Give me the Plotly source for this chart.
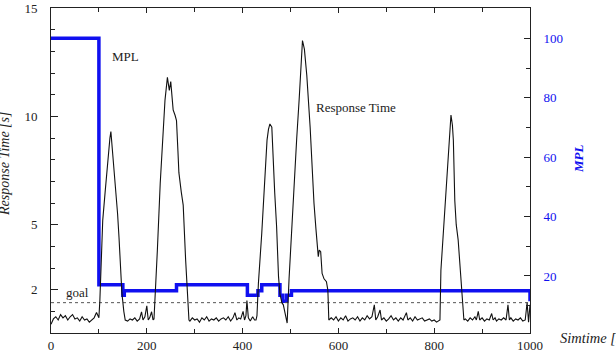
import plotly.graph_objects as go

# ---- data ----
rt_time = [0, 5, 10, 15, 20, 25, 30, 35, 40, 45, 50, 55, 60, 65, 70, 75, 80, 85, 90, 95, 100,
           102, 104, 108, 113, 117, 120, 123, 125, 127, 129, 132, 136, 139, 142, 145, 148, 152, 155,
           160, 165, 170, 175, 180, 185, 189, 192, 196, 200, 203, 206, 210, 213, 215,
           217, 222, 228, 231, 235, 238, 243, 247, 250, 255, 259, 262, 265, 267, 272, 276, 281, 285, 288,
           290, 295, 300, 305, 310, 315, 320, 325, 330, 335, 340, 345, 350, 355, 360, 365, 370, 375, 380,
           384, 388, 392, 396, 401, 404, 407, 409, 412, 416, 421, 425, 428,
           430, 433, 440, 447, 451, 454, 457, 461, 464, 467, 471, 475, 478, 482, 485, 489, 493,
           497, 500, 506, 509, 513, 518, 521, 525, 529, 534, 541, 546, 549, 553, 558, 560, 563, 566, 570,
           575, 578, 580,
           585, 590, 595, 600, 605, 610, 615, 620, 625, 630, 635, 640, 645, 650, 655, 660, 665, 670, 675,
           678, 682, 687, 690, 695, 700, 705, 710, 715, 720, 725, 730, 735, 738, 742, 745, 750, 755, 760,
           765, 770, 775, 780, 785, 790, 795, 800, 805, 810,
           812, 814, 819, 824, 826, 830, 833, 835, 838, 840, 843, 846, 850, 854, 857, 859, 862,
           865, 870, 875, 880, 885, 888, 892, 895, 900, 905, 910, 915, 920, 923, 927, 930, 935, 940, 945,
           950, 954, 957, 960, 965, 970, 975, 980, 985, 990, 994, 997, 1000]
rt_value = [0.40, 0.65, 0.75, 0.60, 0.85, 0.70, 0.80, 0.60, 0.75, 0.85, 0.65, 0.70, 0.55, 0.75, 0.60, 0.65, 0.50, 0.60, 0.70, 0.95, 0.70,
            1.5, 3.0, 5.2, 6.5, 7.6, 8.3, 9.0, 9.3, 8.8, 8.1, 7.6, 6.6, 5.5, 4.4, 3.0, 1.85, 1.0, 0.6,
            0.55, 0.65, 0.60, 0.70, 0.55, 0.65, 0.98, 0.60, 0.75, 1.25, 0.60, 0.70, 0.98, 0.60, 0.65,
            1.5, 3.8, 6.9, 8.0, 9.5, 10.75, 11.8, 11.2, 11.6, 10.3, 10.05, 9.8, 8.4, 7.4, 6.5, 5.9, 3.4, 1.5, 0.6,
            0.55, 0.70, 0.60, 0.65, 0.50, 0.70, 0.60, 0.75, 0.55, 0.65, 0.60, 0.70, 0.55, 0.65, 0.70, 0.60, 0.75, 0.55, 0.70,
            0.94, 0.60, 0.70, 0.65, 1.0, 0.60, 0.80, 1.5, 0.70, 0.55, 0.75, 0.60, 0.60,
            0.8, 2.3, 4.6, 7.2, 8.9, 9.4, 9.65, 9.5, 7.7, 6.5, 4.9, 2.6, 1.8, 1.4, 1.3, 0.9, 0.46,
            2.5, 3.8, 6.1, 7.06, 9.0, 10.75, 12.2, 13.5, 13.1, 11.9, 9.5, 7.06, 6.0, 4.83, 3.52, 3.83, 3.75, 2.75, 2.5,
            2.37, 1.98, 0.6,
            0.70, 0.60, 0.75, 0.55, 0.70, 0.60, 0.80, 0.55, 0.65, 0.70, 0.60, 0.75, 0.55, 0.70, 0.60, 0.80, 0.65, 0.75, 1.3,
            0.60, 0.75, 1.06, 0.60, 0.70, 0.55, 0.65, 0.80, 0.60, 0.70, 0.55, 0.70, 0.60, 0.75, 0.94, 0.60, 0.70, 0.55, 0.75,
            0.60, 0.65, 0.70, 0.55, 0.60, 0.65, 0.55, 0.60, 0.50, 0.55,
            0.6, 2.9, 4.6, 6.3, 7.06, 8.5, 9.6, 10.06, 9.6, 8.9, 6.1, 5.0, 4.3, 3.0, 1.9, 1.68, 0.6,
            0.65, 0.55, 0.70, 0.60, 0.75, 0.60, 1.0, 0.60, 0.70, 0.55, 0.65, 0.60, 0.90, 0.60, 0.70, 0.55, 0.65, 0.60, 0.70,
            0.60, 1.3, 0.60, 0.70, 0.55, 0.65, 0.60, 0.70, 0.55, 0.60, 1.4, 0.50, 1.3]

mpl_time = [0, 100, 150, 153, 262, 410, 432, 440, 478, 484, 492, 502, 1000, 1000]
mpl_value = [100, 17, 13.5, 15, 17, 13.5, 15, 17, 13.5, 11.5, 13.5, 15, 15, 11.5]

goal_value = 1.4
x_ticks = [0, 200, 400, 600, 800, 1000]
rt_ticks = [2, 5, 10, 15]
mpl_ticks = [20, 40, 60, 80, 100]

FONT = "Liberation Serif, Times New Roman, Times, serif"
BLUE = "#1010f0"
DARK = "#222222"

fig = go.Figure()
fig.add_trace(go.Scatter(x=mpl_time, y=mpl_value, mode="lines", line=dict(color=BLUE, width=3.5, shape="hv"),
                         yaxis="y", showlegend=False, hoverinfo="skip"))
fig.add_trace(go.Scatter(x=[0, 1000], y=[goal_value, goal_value], mode="lines",
                         line=dict(color="#555555", width=1, dash="3px,3px"), yaxis="y2",
                         showlegend=False, hoverinfo="skip"))
fig.add_trace(go.Scatter(x=rt_time, y=rt_value, mode="lines", line=dict(color="#111111", width=1.1),
                         yaxis="y2", showlegend=False, hoverinfo="skip"))

fig.update_layout(
    width=616, height=352,
    margin=dict(l=51, r=86, t=8, b=19),
    paper_bgcolor="white", plot_bgcolor="white",
    font=dict(family=FONT, size=13, color=DARK),
    xaxis=dict(range=[0, 1000], showline=True, linecolor=DARK, linewidth=1, mirror="ticks",
               ticks="inside", tickvals=x_ticks, ticklen=5, tickcolor=DARK, automargin=False,
               minor=dict(dtick=100, tick0=0, ticklen=4, ticks="inside", tickcolor=DARK),
               showgrid=False, zeroline=False, tickfont=dict(size=13, color=DARK)),
    yaxis=dict(range=[0.8, 110.2], side="right", showline=True, linecolor=DARK, linewidth=1,
               ticks="inside", tickvals=mpl_ticks, ticklen=6, tickcolor=DARK, automargin=False,
               minor=dict(dtick=10, tick0=0, ticklen=4, ticks="inside", tickcolor=DARK),
               showgrid=False, zeroline=False, tickfont=dict(size=13, color=BLUE),
               ticklabelstandoff=10),
    yaxis2=dict(range=[0, 15], side="left", overlaying="y", showline=True, linecolor=DARK, linewidth=1,
                ticks="inside", tickvals=rt_ticks, ticklen=7, tickcolor=DARK, automargin=False,
                minor=dict(dtick=1, tick0=0, ticklen=4, ticks="inside", tickcolor=DARK),
                showgrid=False, zeroline=False, tickfont=dict(size=13, color=DARK),
                ticklabelstandoff=10),
    annotations=[
        dict(text="MPL", x=123, y=12.74, xref="x", yref="y2", xanchor="left", yanchor="middle",
             showarrow=False, font=dict(family=FONT, size=13, color=DARK)),
        dict(text="Response Time", x=549, y=10.43, xref="x", yref="y2", xanchor="left", yanchor="middle",
             showarrow=False, font=dict(family=FONT, size=13, color=DARK)),
        dict(text="goal", x=27, y=1.85, xref="x", yref="y2", xanchor="left", yanchor="middle",
             showarrow=False, font=dict(family=FONT, size=13, color=DARK)),
        dict(text="<i>Simtime [s]</i>", x=(558 - 51) / 479, y=(333 - 338) / 325, xref="paper", yref="paper",
             xanchor="left", yanchor="middle", showarrow=False, font=dict(family=FONT, size=14.5, color=DARK)),
        dict(text="<i>Response Time [s]</i>", x=(4 - 51) / 479, y=(333 - 164) / 325, xref="paper", yref="paper",
             xanchor="center", yanchor="middle", textangle=-90, showarrow=False,
             font=dict(family=FONT, size=14, color=DARK)),
        dict(text="<b><i>MPL</i></b>", x=(578 - 51) / 479, y=(333 - 159) / 325, xref="paper", yref="paper",
             xanchor="center", yanchor="middle", textangle=-90, showarrow=False,
             font=dict(family=FONT, size=13, color=BLUE)),
    ],
)

fig.write_html("out.html")
